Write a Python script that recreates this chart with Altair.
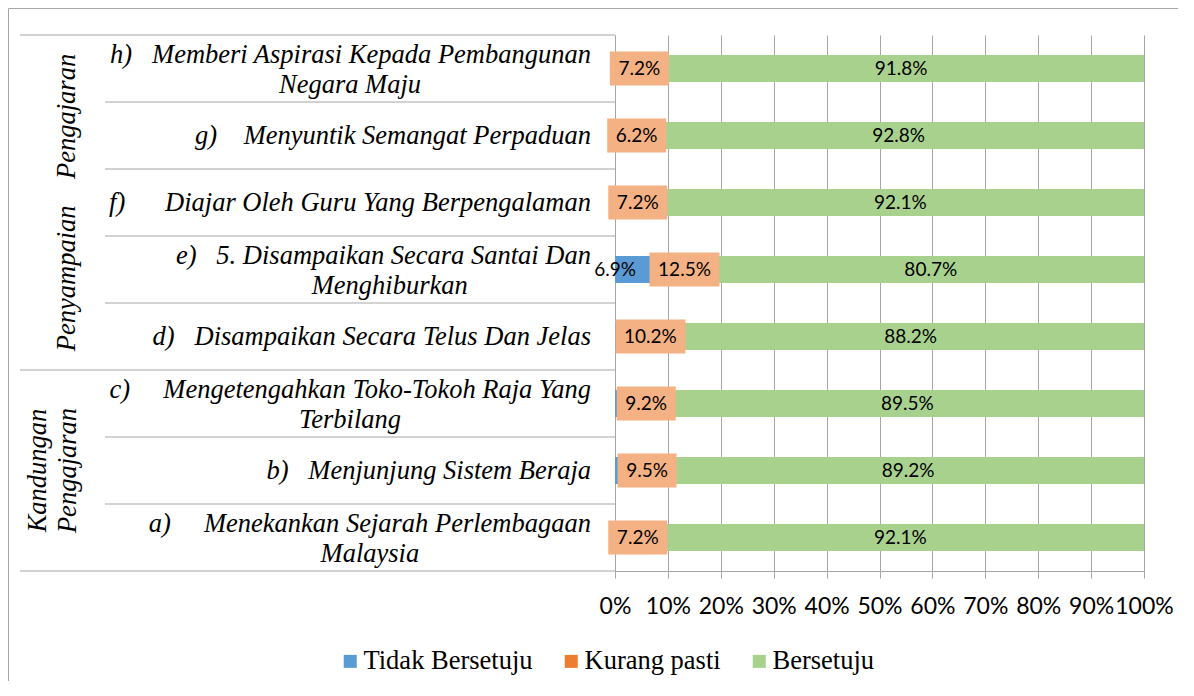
import altair as alt
import pandas as pd

# ---------------- data ----------------
rows = ["h", "g", "f", "e", "d", "c", "b", "a"]
NB = "\u00a0"
ZW = "\u200b"
line1 = [
    "h)" + NB * 3 + "Memberi Aspirasi Kepada Pembangunan",
    "g)" + NB * 4 + "Menyuntik Semangat Perpaduan",
    "f)" + NB * 6 + "Diajar Oleh Guru Yang Berpengalaman",
    "e)" + NB * 3 + "5. Disampaikan Secara Santai Dan",
    "d)" + NB * 3 + "Disampaikan Secara Telus Dan Jelas",
    "c)" + NB * 5 + "Mengetengahkan Toko-Tokoh Raja Yang",
    "b)" + NB * 3 + "Menjunjung Sistem Beraja",
    "a)" + NB * 5 + "Menekankan Sejarah Perlembagaan",
]
line2 = ["Negara Maju", "", "", ZW + NB * 12 + "Menghiburkan", "", "Terbilang", "",
         ZW + NB * 6 + "Malaysia"]

tidak = [1.0, 1.0, 0.7, 6.9, 1.6, 1.3, 1.3, 0.7]
kurang = [7.2, 6.2, 7.2, 12.5, 10.2, 9.2, 9.5, 7.2]
bersetuju = [91.8, 92.8, 92.1, 80.7, 88.2, 89.5, 89.2, 92.1]

series = ["Tidak Bersetuju", "Kurang pasti", "Bersetuju"]
colors = ["#5B9BD5", "#ED7D31", "#A9D18E"]
box_color = "#F4B183"
x_ticks = [0, 10, 20, 30, 40, 50, 60, 70, 80, 90, 100]

group_labels = ["Penyampaian" + NB * 4 + "Pengajaran", "Kandungan", "Pengajaran"]
group_anchor = ["f", "b", "b"]

inner_top_rows = ["g", "f", "e", "d", "b", "a"]
group_top_rows = ["h", "c"]
group_bottom_rows = ["a"]

# ---------------- tables ----------------
recs = []
for i, r in enumerate(rows):
    vals = [tidak[i], kurang[i], bersetuju[i]]
    tot = sum(vals)
    cum = 0.0
    for s, v in zip(series, vals):
        st = cum / tot * 100
        cum += v
        en = cum / tot * 100
        recs.append({"row": r, "series": s, "value": v, "start": st, "end": en,
                     "mid": (st + en) / 2, "label": f"{v:.1f}%"})
df = pd.DataFrame(recs)

lab = pd.DataFrame({"row": rows, "line1": line1, "line2": line2})
lab["two"] = lab["line2"] != ""

grp = pd.DataFrame({"row": group_anchor, "text": group_labels, "idx": [0, 1, 2]})
rules_df = pd.DataFrame(
    [{"row": r, "kind": "inner"} for r in inner_top_rows]
    + [{"row": r, "kind": "gtop"} for r in group_top_rows]
    + [{"row": r, "kind": "gbot"} for r in group_bottom_rows]
)
one = pd.DataFrame({"k": [0]})

GRAY = "#A6A6A6"
SERIF = "'Liberation Serif', 'Times New Roman', serif"
SANS = "Lato"

yenc = alt.Y("row:N", sort=rows,
             scale=alt.Scale(domain=rows, paddingInner=0.597, paddingOuter=0.2985),
             axis=alt.Axis(labels=False, ticks=False, title=None, domain=True,
                           domainColor=GRAY, grid=False))

xscale = alt.Scale(domain=[0, 100], nice=False, zero=True)

base = alt.Chart(df)

bars = base.mark_bar().encode(
    x=alt.X("start:Q", scale=xscale,
            axis=alt.Axis(values=x_ticks, labelExpr="datum.value + '%'", title=None,
                          grid=True, gridColor=GRAY, domainColor=GRAY, tickColor=GRAY,
                          tickSize=7, labelFont=SANS, labelFontSize=23, labelColor="#000000",
                          labelBaseline="middle", labelPadding=28, labelOverlap=False,
                          labelFlush=False)),
    x2="end:Q",
    y=yenc,
    color=alt.Color("series:N", sort=series,
                    scale=alt.Scale(domain=series, range=colors),
                    legend=alt.Legend(orient="none", legendX=-278, legendY=613,
                                      direction="horizontal", symbolType="square",
                                      symbolSize=169, symbolStrokeWidth=0, title=None,
                                      labelFont=SERIF, labelFontSize=26.5,
                                      labelColor="#000000", labelOffset=0,
                                      columnPadding=25, padding=0, labelLimit=400)),
)

green_txt = base.transform_filter(alt.datum.series == "Bersetuju").mark_text(
    font=SANS, fontSize=19, color="#000000", baseline="middle", align="center"
).encode(x="mid:Q", y=yenc, text="label:N")

box_short = base.transform_filter(
    "datum.series == 'Kurang pasti' && length(datum.label) <= 4"
).mark_bar(color=box_color, height=34, xOffset=-29.5, x2Offset=29.5).encode(
    x="mid:Q", x2="mid:Q", y=yenc)

box_long = base.transform_filter(
    "datum.series == 'Kurang pasti' && length(datum.label) > 4"
).mark_bar(color=box_color, height=34, xOffset=-35, x2Offset=35).encode(
    x="mid:Q", x2="mid:Q", y=yenc)

orange_txt = base.transform_filter(alt.datum.series == "Kurang pasti").mark_text(
    font=SANS, fontSize=19, color="#000000", baseline="middle", align="center"
).encode(x="mid:Q", y=yenc, text="label:N")

blue_txt = base.transform_filter(
    "datum.series == 'Tidak Bersetuju' && datum.value > 5"
).mark_text(font=SANS, fontSize=19, color="#000000", baseline="middle", align="center"
            ).encode(x="start:Q", y=yenc, text="label:N")

labc = alt.Chart(lab)
row_single = labc.transform_filter("!datum.two").mark_text(
    font=SERIF, fontStyle="italic", fontSize=26.5, color="#000000",
    align="right", baseline="middle"
).encode(x=alt.value(-24), y=yenc, text="line1:N")

row_l1 = labc.transform_filter("datum.two").mark_text(
    font=SERIF, fontStyle="italic", fontSize=26.5, color="#000000",
    align="right", baseline="middle", yOffset=-14
).encode(x=alt.value(-24), y=yenc, text="line1:N")

row_l2 = labc.transform_filter("datum.two").mark_text(
    font=SERIF, fontStyle="italic", fontSize=26.5, color="#000000",
    align="center", baseline="middle", yOffset=16
).encode(x=alt.value(-265), y=yenc, text="line2:N")

grc = alt.Chart(grp)
grp_main = grc.transform_filter("datum.idx == 0").mark_text(
    font=SERIF, fontStyle="italic", fontSize=26.5, color="#000000",
    align="center", baseline="middle", angle=270
).encode(x=alt.value(-548), y=yenc, text="text:N")
grp_k1 = grc.transform_filter("datum.idx == 1").mark_text(
    font=SERIF, fontStyle="italic", fontSize=26.5, color="#000000",
    align="center", baseline="middle", angle=270
).encode(x=alt.value(-577), y=yenc, text="text:N")
grp_k2 = grc.transform_filter("datum.idx == 2").mark_text(
    font=SERIF, fontStyle="italic", fontSize=26.5, color="#000000",
    align="center", baseline="middle", angle=270
).encode(x=alt.value(-547), y=yenc, text="text:N")

rc = alt.Chart(rules_df)
r_inner = rc.transform_filter("datum.kind == 'inner'").mark_rule(
    color=GRAY, strokeWidth=1, yOffset=-33.5
).encode(y=yenc, x=alt.value(-510), x2=alt.value(0))
r_gtop = rc.transform_filter("datum.kind == 'gtop'").mark_rule(
    color=GRAY, strokeWidth=1, yOffset=-33.5
).encode(y=yenc, x=alt.value(-595), x2=alt.value(0))
r_gbot = rc.transform_filter("datum.kind == 'gbot'").mark_rule(
    color=GRAY, strokeWidth=1, yOffset=33.5
).encode(y=yenc, x=alt.value(-595), x2=alt.value(0))

oc = alt.Chart(one)
border_left = oc.mark_rule(color=GRAY, strokeWidth=1).encode(
    x=alt.value(-606.5), y=alt.value(-26.5), y2=alt.value(700))
border_top = oc.mark_rule(color=GRAY, strokeWidth=1).encode(
    x=alt.value(-606.5), x2=alt.value(600), y=alt.value(-26.5))

chart = alt.layer(
    border_left, border_top,
    r_inner, r_gtop, r_gbot,
    bars, box_short, box_long,
    green_txt, orange_txt, blue_txt,
    row_single, row_l1, row_l2,
    grp_main, grp_k1, grp_k2,
).properties(
    width=529, height=536,
    padding={"left": 607, "top": 27, "right": 34, "bottom": 110},
    autosize=alt.AutoSizeParams(type="none"),
    background="white",
).configure_view(stroke=None)

chart.save("out.html", embed_options={"renderer": "svg", "actions": False})
